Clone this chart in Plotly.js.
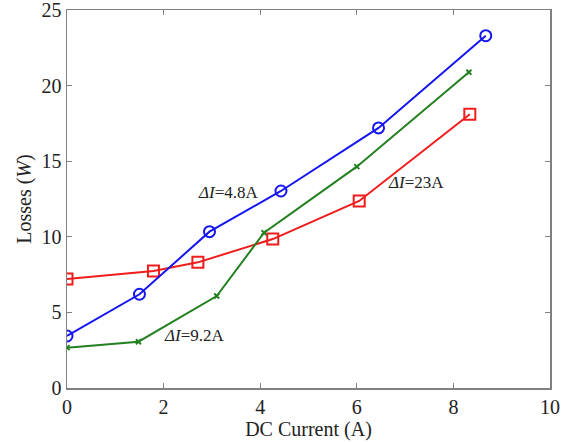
<!DOCTYPE html>
<html><head><meta charset="utf-8">
<script src="https://cdn.plot.ly/plotly-3.0.1.min.js"></script>
<style>html,body{margin:0;padding:0;background:#fff}#chart{width:574px;height:443px}</style>
</head><body><div id="chart"></div>
<script>
const blueX = [0, 1.50, 2.95, 4.43, 6.45, 8.67];
const blueY = [3.44, 6.2, 10.34, 13.03, 17.2, 23.3];
const redX = [0, 1.79, 2.71, 4.26, 6.05, 8.34];
const redY = [7.21, 7.74, 8.31, 9.85, 12.37, 18.1];
const greenX = [0, 1.48, 3.1, 4.08, 6.0, 8.32];
const greenY = [2.67, 3.06, 6.08, 10.27, 14.64, 20.88];
const labels = ["<i>ΔI</i>=4.8A", "<i>ΔI</i>=23A", "<i>ΔI</i>=9.2A"];
const xTicks = [0, 2, 4, 6, 8, 10];
const yTicks = [0, 5, 10, 15, 20, 25];

const font = "Liberation Serif, Times New Roman, serif";
const traces = [
  {x: redX, y: redY, mode: "lines+markers", line: {color: "#f01c1c", width: 2},
   marker: {symbol: "square-open", size: 11, color: "#f01c1c", line: {width: 2}}},
  {x: greenX, y: greenY, mode: "lines+markers", line: {color: "#23801f", width: 2},
   marker: {symbol: "x-thin-open", size: 5, color: "#23801f", line: {width: 2, color: "#23801f"}}},
  {x: blueX, y: blueY, mode: "lines+markers", line: {color: "#1515f0", width: 2},
   marker: {symbol: "circle-open", size: 11, color: "#1515f0", line: {width: 2}}}
];
const axisCommon = {
  showgrid: false, zeroline: false, showline: true, linecolor: "#808080", linewidth: 1.5,
  mirror: "ticks", ticks: "inside", ticklen: 5, tickcolor: "#808080",
  ticklabeloverflow: "allow",
  tickfont: {family: font, size: 20, color: "#222"}
};
const layout = {
  width: 574, height: 443, showlegend: false,
  paper_bgcolor: "#fff", plot_bgcolor: "#fff",
  margin: {l: 67, r: 24, t: 10, b: 55},
  font: {family: font, color: "#222"},
  xaxis: Object.assign({}, axisCommon, {range: [0, 10], tickvals: xTicks, ticktext: xTicks.map(String),
    title: {text: "DC Current (A)", font: {family: font, size: 20, color: "#222"}, standoff: 1}}),
  yaxis: Object.assign({}, axisCommon, {range: [0, 25], tickvals: yTicks, ticktext: yTicks.map(String),
    title: {text: "Losses (<i>W</i>)", font: {family: font, size: 20, color: "#222"}, standoff: 4}}),
  annotations: [
    {x: 3.33, y: 12.96, text: labels[0], showarrow: false, font: {family: font, size: 17, color: "#222"}},
    {x: 7.23, y: 13.56, text: labels[1], showarrow: false, font: {family: font, size: 17, color: "#222"}},
    {x: 2.63, y: 3.44, text: labels[2], showarrow: false, font: {family: font, size: 17, color: "#222"}}
  ]
};
Plotly.newPlot("chart", traces, layout, {displayModeBar: false, staticPlot: true});
</script></body></html>
